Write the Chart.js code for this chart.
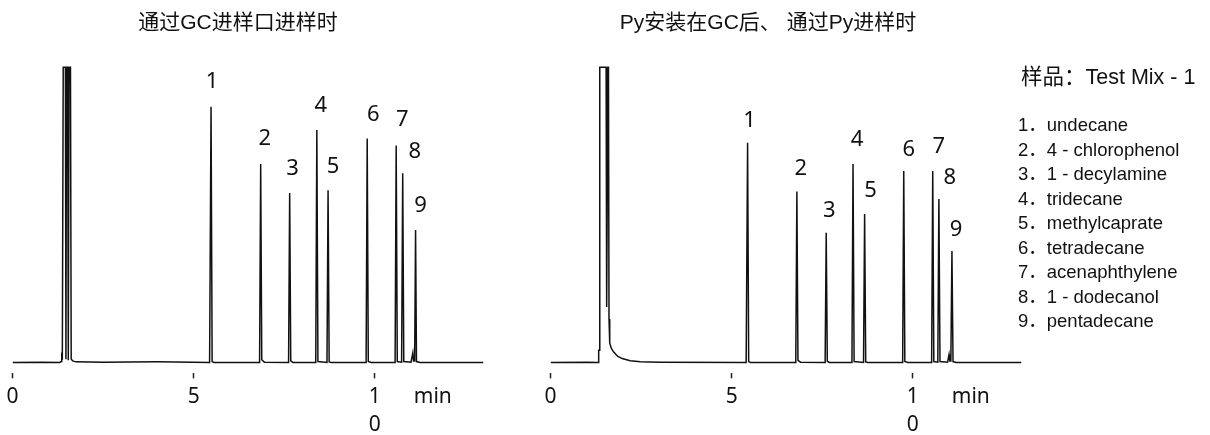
<!DOCTYPE html>
<html>
<head>
<meta charset="utf-8">
<script src="https://cdn.jsdelivr.net/npm/chart.js@4"></script>
<style>
  body { margin: 0; background: #fff; overflow: hidden; }
  #wrap { position: relative; width: 1210px; height: 435px; }
  canvas { position: absolute; top: 0; }
  .title { position: absolute; top: 8px; font: 21px "Liberation Sans", "Noto Sans CJK SC"; color: #111; white-space: pre; transform: translateX(-50%); line-height: 28px; }
  .sample { position: absolute; left: 1021px; top: 63px; font: 21.5px "Liberation Sans", "Noto Sans CJK SC"; color: #111; white-space: pre; line-height: 28px; }
  .list { position: absolute; left: 1018px; top: 113px; font: 18.5px "Liberation Sans", "Noto Sans CJK SC"; color: #111; line-height: 24.5px; white-space: pre; }
</style>
</head>
<body>
<div id="wrap">
  <canvas id="left" width="495" height="435" style="left:0px"></canvas>
  <canvas id="right" width="495" height="435" style="left:537.5px"></canvas>
  <div class="title" style="left:238px">通过GC进样口进样时</div>
  <div class="title" style="left:768px">Py安装在GC后、 通过Py进样时</div>
  <div class="sample">样品：Test Mix - 1</div>
  <div class="list" id="list"></div>
</div>
<script>
// retention time (min), signal (% of full scale; solvent peaks run off the top)
const leftTrace = [
  [0, 0.3], [0.8, 0.4], [1.30, 0.3], [1.34, 0.6], [1.36, 3.7], [1.375, 1.2],
  [1.40, 100], [1.46, 100], [1.475, 1.4], [1.49, 100], [1.52, 100], [1.54, 1.0],
  [1.56, 100], [1.60, 100], [1.62, 1.5], [1.66, 0.8], [1.75, 0.5], [2.5, 0.4], [4.0, 0.5],
  [5.44, 0.3], [5.48, 86.7], [5.51, 0.6], [5.56, 0.3],
  [6.82, 0.3], [6.85, 67.3], [6.88, 1.2], [6.95, 0.4],
  [7.62, 0.3], [7.65, 57.5], [7.68, 0.8], [7.74, 0.3],
  [8.37, 0.3], [8.40, 78.8], [8.43, 0.6],
  [8.68, 0.3], [8.71, 58.5], [8.74, 0.5], [8.80, 0.3],
  [9.76, 0.3], [9.79, 75.9], [9.82, 0.6], [9.90, 0.3],
  [10.56, 0.3], [10.59, 73.6], [10.62, 0.6],
  [10.74, 0.4], [10.77, 64.2], [10.80, 0.6],
  [11.00, 0.4], [11.05, 3.6], [11.07, 0.8],
  [11.10, 0.8], [11.125, 45.0], [11.15, 0.6], [11.25, 0.3], [13, 0.3]
];

const rightTrace = [
  [0, 0.3], [1.0, 0.4], [1.32, 0.3], [1.33, 4.4], [1.345, 4.4],
  [1.36, 100], [1.535, 100], [1.55, 19], [1.585, 100], [1.60, 100],
  [1.615, 15], [1.635, 6.8], [1.68, 5.0], [1.745, 3.8], [1.85, 2.4], [1.98, 1.6],
  [2.2, 0.9], [2.48, 0.5], [3.0, 0.35],
  [5.40, 0.3], [5.44, 74.5], [5.47, 0.6], [5.52, 0.3],
  [6.77, 0.3], [6.80, 58.0], [6.83, 1.0], [6.90, 0.4],
  [7.58, 0.3], [7.61, 44.1], [7.64, 0.7], [7.70, 0.3],
  [8.32, 0.3], [8.35, 67.3], [8.38, 0.6],
  [8.64, 0.3], [8.67, 50.4], [8.70, 0.5], [8.76, 0.3],
  [9.72, 0.3], [9.75, 65.0], [9.78, 0.6], [9.86, 0.3],
  [10.52, 0.3], [10.55, 65.0], [10.58, 0.6],
  [10.69, 0.4], [10.72, 55.5], [10.75, 0.6],
  [10.96, 0.4], [11.00, 3.0], [11.02, 0.8],
  [11.05, 0.8], [11.08, 37.9], [11.11, 0.6], [11.20, 0.3], [13, 0.3]
];

const peakNumbers = ['1', '2', '3', '4', '5', '6', '7', '8', '9'];
const leftPeakTime = [5.48, 6.85, 7.65, 8.40, 8.71, 9.79, 10.59, 10.77, 11.125];
const leftPeakHeight = [86.7, 67.3, 57.5, 78.8, 58.5, 75.9, 73.6, 64.2, 45.0];
const rightPeakTime = [5.44, 6.80, 7.61, 8.35, 8.67, 9.75, 10.55, 10.72, 11.08];
const rightPeakHeight = [74.5, 58.0, 44.1, 67.3, 50.4, 65.0, 65.0, 55.5, 37.9];
const compounds = ['undecane', '4 - chlorophenol', '1 - decylamine', 'tridecane',
  'methylcaprate', 'tetradecane', 'acenaphthylene', '1 - dodecanol', 'pentadecane'];
const xTicks = [0, 5, 10];

document.getElementById('list').textContent =
  compounds.map((c, i) => peakNumbers[i] + '．' + c).join('\n');

// small nudges so the numbers sit where the original put them
const leftNudge = [[1, -25], [4, -25], [3, -24], [4, -24], [5, -23], [6, -24], [6, -26], [12, -22], [5, -24]];
const rightNudge = [[2, -22], [4, -23], [3, -22], [4, -24], [6, -23], [5, -21], [6, -24], [11, -21], [4, -21]];

const peakLabels = {
  id: 'peakLabels',
  afterDatasetsDraw(chart, args, opts) {
    const { ctx, scales: { x, y } } = chart;
    ctx.save();
    ctx.fillStyle = '#111';
    ctx.font = '22px "Noto Sans"';
    ctx.textAlign = 'center';
    ctx.textBaseline = 'middle';
    opts.times.forEach((t, i) => {
      const px = x.getPixelForValue(t) + opts.nudge[i][0];
      const py = y.getPixelForValue(opts.heights[i]) + opts.nudge[i][1];
      ctx.fillText(peakNumbers[i], px, py);
    });
    ctx.font = '21px "Noto Sans"';
    ctx.fillText('min', x.getPixelForValue(11.6), 397);
    ctx.restore();
  }
};

function makeChart(id, trace, times, heights, nudge) {
  return new Chart(document.getElementById(id), {
    type: 'line',
    data: {
      datasets: [{
        data: trace.map(p => ({ x: p[0], y: p[1] })),
        borderColor: '#111',
        borderWidth: 1.5,
        pointRadius: 0,
        tension: 0,
        fill: false
      }]
    },
    options: {
      responsive: false,
      animation: false,
      layout: { padding: { left: 12.5, right: 11.5, top: 64.3, bottom: 0 } },
      plugins: {
        legend: { display: false },
        tooltip: { enabled: false },
        peakLabels: { times: times, heights: heights, nudge: nudge }
      },
      scales: {
        x: {
          type: 'linear',
          min: 0,
          max: 13,
          afterBuildTicks: (scale) => { scale.ticks = xTicks.map(v => ({ value: v })); },
          afterFit: (scale) => {
            scale.height = 61.6;
            scale.paddingLeft = 0;
            scale.paddingRight = 0;
          },
          border: { display: false },
          grid: { drawOnChartArea: false, tickLength: 5, tickWidth: 1.5, tickColor: '#222' },
          ticks: {
            autoSkip: false,
            maxRotation: 0,
            padding: 4,
            color: '#111',
            font: { family: 'Noto Sans', size: 21, lineHeight: 1.35 },
            callback: (v) => v === 10 ? ['1', '0'] : String(v)
          }
        },
        y: { display: false, min: -3.4, max: 101 }
      }
    },
    plugins: [peakLabels]
  });
}

makeChart('left', leftTrace, leftPeakTime, leftPeakHeight, leftNudge);
makeChart('right', rightTrace, rightPeakTime, rightPeakHeight, rightNudge);
</script>
</body>
</html>
